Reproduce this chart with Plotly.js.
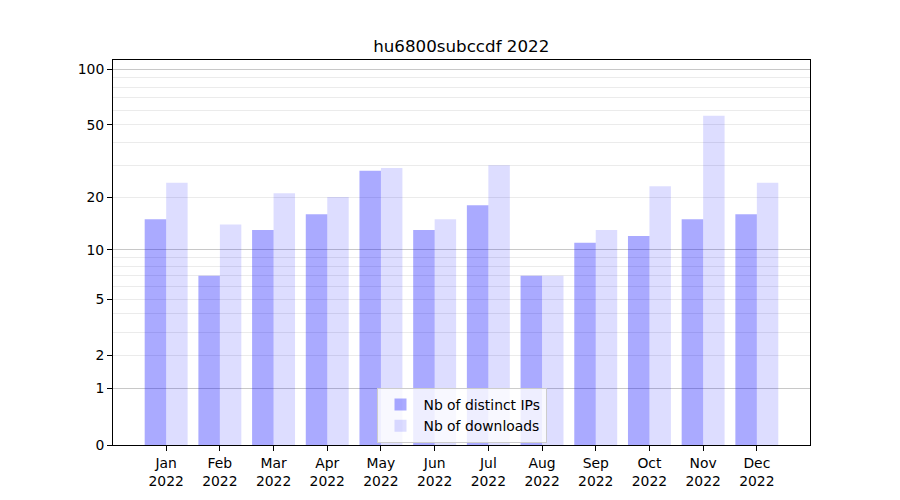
<!DOCTYPE html>
<html>
<head>
<meta charset="utf-8">
<script src="https://cdn.plot.ly/plotly-3.0.1.min.js"></script>
<style>html,body{margin:0;padding:0;background:#fff}#chart{width:900px;height:500px}</style>
</head>
<body>
<div id="chart"></div>
<script>
const months = ["Jan<br>2022","Feb<br>2022","Mar<br>2022","Apr<br>2022","May<br>2022","Jun<br>2022","Jul<br>2022","Aug<br>2022","Sep<br>2022","Oct<br>2022","Nov<br>2022","Dec<br>2022"];
const distinctIPs = [15, 7, 13, 16, 28, 13, 18, 7, 11, 12, 15, 16];
const downloads = [24, 14, 21, 20, 29, 15, 30, 7, 13, 23, 56, 24];
const tickValues = [0, 1, 2, 5, 10, 20, 50, 100];
const minorValues = [2,3,4,5,6,7,8,9,20,30,40,50,60,70,80,90];
const majorGridValues = [1, 10, 100];

// scale is log10(1 + v): bars start at base 1 on a log axis
const shift = v => v + 1;
const baseArr = months.map(() => 1);
const yTop = Math.log10(shift(2 * Math.max(...downloads)));
const yRange = [0, yTop];
const font = {family: "DejaVu Sans, sans-serif", size: 13.9, color: "#000"};

const traces = [
  {type: "bar", name: "Nb of distinct IPs", x: months, y: distinctIPs, base: baseArr,
   marker: {color: "rgba(0,0,255,0.333)", line: {width: 0}}},
  {type: "bar", name: "Nb of downloads", x: months, y: downloads, base: baseArr,
   marker: {color: "rgba(0,0,255,0.133)", line: {width: 0}}}
];

const layout = {
  width: 900, height: 500,
  margin: {l: 113, r: 90, t: 60, b: 55, pad: 0},
  paper_bgcolor: "#fff", plot_bgcolor: "rgba(0,0,0,0)",
  font: font,
  title: {text: "hu6800subccdf 2022", font: {family: "DejaVu Sans, sans-serif", size: 16.7, color: "#000"},
          x: 0.5125, xanchor: "center", y: 0.908, yanchor: "middle"},
  barmode: "group", bargap: 0.2, bargroupgap: 0,
  showlegend: true,
  legend: {x: 0.5, xanchor: "center", y: 0.005, yanchor: "bottom",
           bgcolor: "rgba(255,255,255,0.8)", bordercolor: "#cccccc", borderwidth: 1,
           font: font, tracegroupgap: 2, itemwidth: 36},
  xaxis: {
    type: "category", range: [-0.99, 11.99],
    showgrid: false, zeroline: false,
    showline: true, linecolor: "#000", linewidth: 1, mirror: true,
    ticks: "outside", ticklen: 5, tickwidth: 1, tickcolor: "#000",
    tickfont: font
  },
  yaxis: {
    type: "log", range: yRange,
    tickmode: "array", tickvals: tickValues.map(shift), ticktext: tickValues.map(String),
    showgrid: false, zeroline: false,
    showline: true, linecolor: "#000", linewidth: 1, mirror: true,
    ticks: "outside", ticklen: 5, tickwidth: 1, tickcolor: "#000",
    tickfont: font,
    minor: {tickmode: "array", tickvals: minorValues.map(shift), showgrid: true,
            gridcolor: "#ebebeb", gridwidth: 1, ticks: ""}
  },
  yaxis2: {
    type: "log", range: yRange, overlaying: "y",
    tickmode: "array", tickvals: majorGridValues.map(shift),
    showgrid: true, gridcolor: "#c8c8c8", gridwidth: 1,
    showticklabels: false, ticks: "", zeroline: false, showline: false
  }
};

// invisible trace to activate yaxis2 grid
traces.push({type: "scatter", x: [months[0]], y: [1], yaxis: "y2", mode: "markers",
             marker: {opacity: 0}, showlegend: false, hoverinfo: "skip"});

Plotly.newPlot("chart", traces, layout, {displayModeBar: false, staticPlot: true});
</script>
</body>
</html>
